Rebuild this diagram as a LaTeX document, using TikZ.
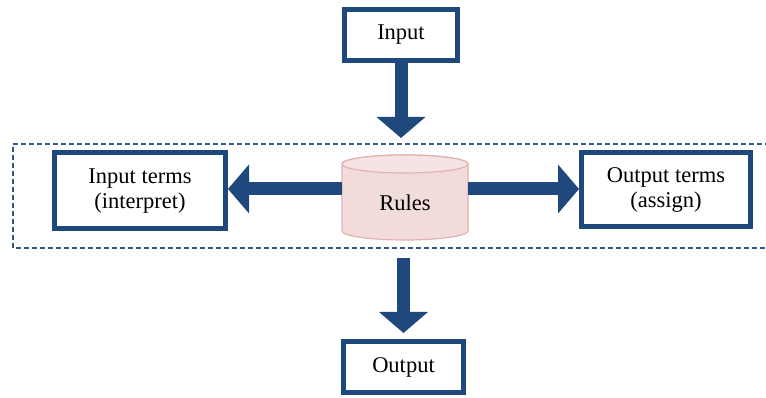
\documentclass[tikz,border=0pt]{standalone}
\usepackage{fontspec}
\setmainfont{Liberation Serif}
\usetikzlibrary{arrows.meta}
\definecolor{frameblue}{RGB}{31,73,125}
\definecolor{rulefill}{RGB}{242,220,219}
\definecolor{ruletop}{RGB}{246,228,228}
\definecolor{ruleedge}{RGB}{226,178,177}
\definecolor{dashblue}{RGB}{52,88,140}
\begin{document}
\begin{tikzpicture}[x=1pt,y=1pt,
  box/.style={draw=frameblue, line width=5pt, fill=white, align=center,
    inner sep=0pt, font=\fontsize{22.5}{25}\selectfont},
  flow/.style={draw=frameblue, line width=13pt,
    -{Triangle[width=49pt,length=21pt,line width=0pt]}},
  frame/.style={draw=dashblue, line width=1.3pt, dash pattern=on 5pt off 3pt}]
\useasboundingbox (0,0) rectangle (766,398);

% dashed frame around the rule layer (open on the right)
\draw[frame] (770,254) -| (13,150) -- (770,150);

% boxes
\node[box, minimum width=113pt, minimum height=51pt] (in) at (401,363) {Input};
\node[box, minimum width=171pt, minimum height=76pt] (interp) at (140,207) {Input terms\\(interpret)};
\node[box, minimum width=169pt, minimum height=74pt] (assign) at (666,208) {Output terms\\(assign)};
\node[box, minimum width=120pt, minimum height=51pt] (out) at (403.5,31) {Output};

% rule base cylinder
\filldraw[fill=rulefill, draw=ruleedge, line width=1.2pt]
  (342,234) -- (342,167) arc[start angle=180, end angle=360, x radius=63, y radius=9]
  -- (468,234) arc[start angle=0, end angle=180, x radius=63, y radius=9] -- cycle;
\filldraw[fill=ruletop, draw=ruleedge, line width=1.2pt] (405,234) ellipse[x radius=63, y radius=9];
\node[minimum width=126pt, minimum height=85pt, inner sep=0pt] (rules) at (405,200.5) {};
\node[font=\fontsize{22.5}{25}\selectfont, inner sep=0pt] (rulestext) at (405,195) {Rules};

% connectors
\coordinate (midline) at (0,209);
\coordinate (inTip) at (0,260);
\coordinate (outStart) at (0,140);
\draw[flow] (in.south) -- (in.south |- inTip);
\draw[flow] (rules.west |- midline) -- (interp.east |- midline);
\draw[flow] (rules.east |- midline) -- (assign.west |- midline);
\draw[flow, shorten >=6pt] (out.north |- outStart) -- (out.north);
\end{tikzpicture}
\end{document}
